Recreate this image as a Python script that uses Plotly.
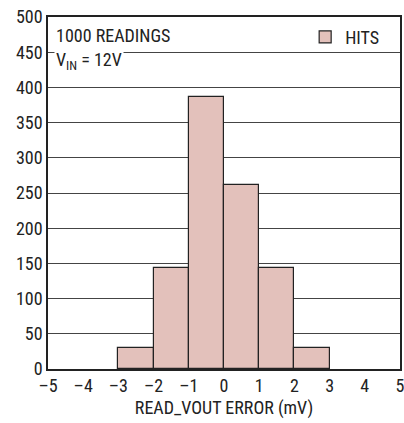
import plotly.graph_objects as go

bin_left = [-3, -2, -1, 0, 1, 2]
hits = [30, 143, 387, 262, 143, 30]
x_ticks = [-5, -4, -3, -2, -1, 0, 1, 2, 3, 4, 5]
x_ticktext = ["–5", "–4", "–3", "–2", "–1", "0", "1", "2", "3", "4", "5"]
y_ticks = list(range(0, 501, 50))

FONT = "Liberation Sans Narrow, Roboto Condensed, Arial Narrow, Liberation Sans, sans-serif"
FS = 18

fig = go.Figure()
fig.add_trace(go.Bar(
    x=[b + 0.5 for b in bin_left], y=hits, width=1,
    name="HITS",
    marker=dict(color="#e3c1bb", line=dict(color="#222222", width=1.2)),
))

fig.update_layout(
    width=404, height=423,
    margin=dict(l=48, r=4, t=17, b=54, autoexpand=False),
    paper_bgcolor="white", plot_bgcolor="white",
    font=dict(family=FONT, size=FS, color="#222222"),
    bargap=0,
    showlegend=True,
    legend=dict(x=0.955, y=0.995, xanchor="right", yanchor="top",
                bgcolor="rgba(0,0,0,0)", font=dict(size=FS),
                itemwidth=30),
    xaxis=dict(range=[-5, 5], tickvals=x_ticks, ticktext=x_ticktext,
               showgrid=False, zeroline=False, showline=True, mirror=True,
               linecolor="#222222", linewidth=1.5, ticks="", automargin=False,
               ticklabeloverflow="allow",
               title=dict(text="READ_VOUT ERROR (mV)", font=dict(size=FS), standoff=6),
               tickfont=dict(size=FS)),
    yaxis=dict(range=[0, 500], tickvals=y_ticks,
               showgrid=True, gridcolor="#444444", gridwidth=1,
               zeroline=False, showline=True, mirror=True, automargin=False,
               ticklabeloverflow="allow",
               linecolor="#222222", linewidth=1.5, ticks="",
               tickfont=dict(size=FS)),
    annotations=[
        dict(text="1000 READINGS", xref="paper", yref="y", x=0.018, y=474,
             xanchor="left", yanchor="middle", showarrow=False, bgcolor="white",
             font=dict(size=FS)),
        dict(text="V<sub>IN</sub> = 12V", xref="paper", yref="y", x=0.018, y=438,
             xanchor="left", yanchor="middle", showarrow=False, bgcolor="white",
             font=dict(size=FS)),
    ],
)

fig.write_html("out.html", config={"displayModeBar": False},
               post_script="document.body.style.margin='0';document.body.style.padding='0';")
